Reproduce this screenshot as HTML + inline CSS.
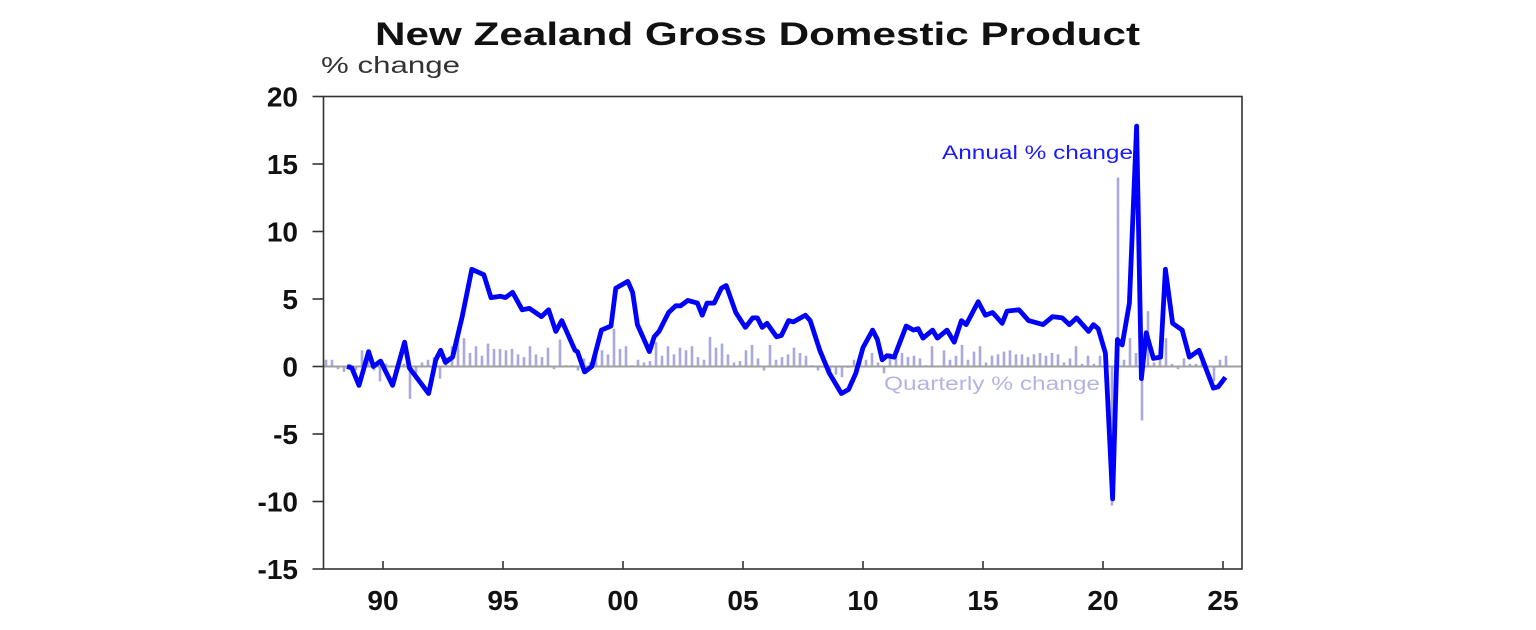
<!DOCTYPE html>
<html><head><meta charset="utf-8"><style>
html,body{margin:0;padding:0;background:#fff;}
svg{display:block;font-family:"Liberation Sans",Arial,sans-serif;}
</style></head><body>
<svg id="chart" width="1536" height="630" viewBox="0 0 1536 630">
<text x="375" y="45" font-size="32" font-weight="bold" fill="#111" textLength="765" lengthAdjust="spacingAndGlyphs">New Zealand Gross Domestic Product</text>
<text x="321" y="73" font-size="23" fill="#333" textLength="139" lengthAdjust="spacingAndGlyphs">% change</text>
<g id="bars"></g>
<g id="axes"></g>
<path id="annual" fill="none" stroke="#0000ff" stroke-width="4.8" stroke-linejoin="round"></path>
<text x="942" y="159" font-size="19" fill="#1a1aff" textLength="191" lengthAdjust="spacingAndGlyphs">Annual % change</text>
<text x="884" y="390" font-size="19" fill="#b4b4e4" textLength="216" lengthAdjust="spacingAndGlyphs">Quarterly % change</text>
</svg>
<script>
const yTicks=[20,15,10,5,0,-5,-10,-15];
const xTickYears=[1990,1995,2000,2005,2010,2015,2020,2025];
const xTickLabels=["90","95","00","05","10","15","20","25"];
const barStart=1987.625;
const quarterly=[0.5,0.5,-0.2,-0.4,0.2,-0.3,1.2,1.2,-0.3,-1.1,0.2,0.0,0.4,0.2,-2.4,-0.5,0.3,0.5,0.7,-0.9,0.7,1.5,2.2,2.1,1.0,1.5,0.8,1.7,1.3,1.3,1.2,1.3,0.9,0.7,1.5,0.9,0.7,1.4,-0.2,
2.0,0.1,0.1,-0.3,0.6,0.3,0.9,1.2,0.9,2.8,1.3,1.5,0.1,0.5,0.3,0.4,1.8,0.8,1.5,0.9,1.4,1.2,1.5,0.7,0.5,2.2,1.4,1.7,0.9,0.3,0.4,1.2,1.6,0.6,-0.3,1.6,0.5,0.7,0.9,
1.4,1.0,0.8,0.1,-0.3,-0.1,-0.3,-0.6,-0.8,-0.1,0.5,0.6,0.5,1.0,0.3,-0.5,1.0,1.0,1.0,0.7,0.8,0.6,0.1,1.5,0.0,1.2,0.5,0.8,1.6,0.5,1.1,1.5,0.3,0.8,0.9,1.1,1.2,0.9,
0.9,0.7,0.9,1.0,0.8,1.0,0.9,0.3,0.6,1.5,0.2,0.8,0.2,0.8,-0.2,-10.3,14.0,0.5,2.1,1.0,-4.0,4.1,0.3,0.5,2.1,0.2,-0.2,0.6,0.2,0.2,0.5,-0.1,-1.1,0.5,0.8];
const annualDates=[1988.5,1988.7,1989.0,1989.4,1989.6,1989.9,1990.4,1990.9,1991.1,1991.9,1992.2,1992.4,1992.6,1992.9,1993.3,1993.7,1994.2,1994.5,1994.9,1995.1,1995.4,1995.8,1996.1,1996.6,1996.9,1997.2,1997.45,1998.0,1998.1,1998.4,1998.7,1999.1,1999.5,1999.7,2000.2,2000.4,2000.6,2001.1,2001.3,2001.5,2001.9,2002.2,2002.4,2002.7,2003.1,2003.3,2003.5,2003.8,2004.1,2004.3,2004.7,2005.1,2005.4,2005.6,2005.8,2006.0,2006.4,2006.6,2006.9,2007.1,2007.6,2007.8,2008.2,2008.6,2009.1,2009.4,2009.7,2010.0,2010.4,2010.6,2010.8,2011.0,2011.3,2011.8,2012.1,2012.3,2012.5,2012.9,2013.1,2013.5,2013.8,2014.1,2014.3,2014.8,2015.1,2015.4,2015.8,2016.0,2016.5,2016.9,2017.5,2017.9,2018.3,2018.6,2018.9,2019.0,2019.4,2019.6,2019.8,2020.1,2020.4,2020.6,2020.8,2021.1,2021.4,2021.6,2021.8,2022.1,2022.4,2022.6,2022.9,2023.3,2023.6,2024.0,2024.6,2024.8,2025.1];
const annualValues=[0.0,-0.1,-1.4,1.1,0.0,0.4,-1.4,1.8,-0.1,-2.0,0.5,1.2,0.3,0.7,3.7,7.2,6.8,5.1,5.2,5.1,5.5,4.2,4.3,3.7,4.2,2.6,3.4,1.2,1.1,-0.4,0.0,2.7,3.0,5.8,6.3,5.5,3.1,1.1,2.2,2.6,4.0,4.5,4.5,4.9,4.7,3.8,4.7,4.7,5.8,6.0,4.0,2.9,3.6,3.6,2.9,3.2,2.2,2.3,3.4,3.3,3.8,3.4,1.2,-0.5,-2.0,-1.7,-0.5,1.4,2.7,2.0,0.5,0.8,0.7,3.0,2.7,2.8,2.1,2.7,2.1,2.7,1.8,3.4,3.1,4.8,3.8,4.0,3.2,4.1,4.2,3.4,3.1,3.7,3.6,3.1,3.6,3.4,2.6,3.1,2.8,1.0,-9.8,2.0,1.6,4.7,17.8,-0.9,2.5,0.6,0.7,7.2,3.2,2.7,0.7,1.2,-1.6,-1.5,-0.8];

const X0=623, PXY=24, Y0=366.5, PXV=13.5;
const L=323.5, R=1242, T=96.5, B=569;
function xs(t){return X0+(t-2000)*PXY;}
function ys(v){return Y0-v*PXV;}
const NS="http://www.w3.org/2000/svg";
function mk(tag,attrs,parent){const e=document.createElementNS(NS,tag);for(const k in attrs)e.setAttribute(k,attrs[k]);parent.appendChild(e);return e;}

const bars=document.getElementById('bars');
quarterly.forEach((v,i)=>{
  const x=xs(barStart+i*0.25);
  const y1=ys(Math.max(v,0)), y2=ys(Math.min(v,0));
  const r=mk('rect',{x:x-1.3,y:y1,width:2.6,height:Math.max(y2-y1,0.8),fill:'#a9a9dc'},bars);
  
  
});

const ax=document.getElementById('axes');
const z=mk('line',{x1:L,y1:ys(0),x2:R,y2:ys(0),stroke:'#a0a0a0','stroke-width':2},ax);


const frame=mk('rect',{x:L,y:T,width:R-L,height:B-T,fill:'none',stroke:'#333','stroke-width':1.6},ax);


yTicks.forEach(v=>{
  const y=ys(v);
  const tk=mk('line',{x1:L-11,y1:y,x2:L,y2:y,stroke:'#333','stroke-width':1.6},ax);
  
  
  const t=mk('text',{x:298,y:y+10,'text-anchor':'end','font-size':28,'font-weight':'bold',fill:'#111'},ax);
  t.textContent=String(v);
  
  
});
xTickYears.forEach((yr,i)=>{
  const x=xs(yr);
  const tk=mk('line',{x1:x,y1:B-8,x2:x,y2:B,stroke:'#333','stroke-width':1.6},ax);
  
  
  const t=mk('text',{x:x,y:610,'text-anchor':'middle','font-size':28,'font-weight':'bold',fill:'#111'},ax);
  t.textContent=xTickLabels[i];
  
  
});

let d='';
annualDates.forEach((t,i)=>{d+=(i?'L':'M')+xs(t).toFixed(1)+' '+ys(annualValues[i]).toFixed(1);});
document.getElementById('annual').setAttribute('d',d);
</script>
</body></html>
